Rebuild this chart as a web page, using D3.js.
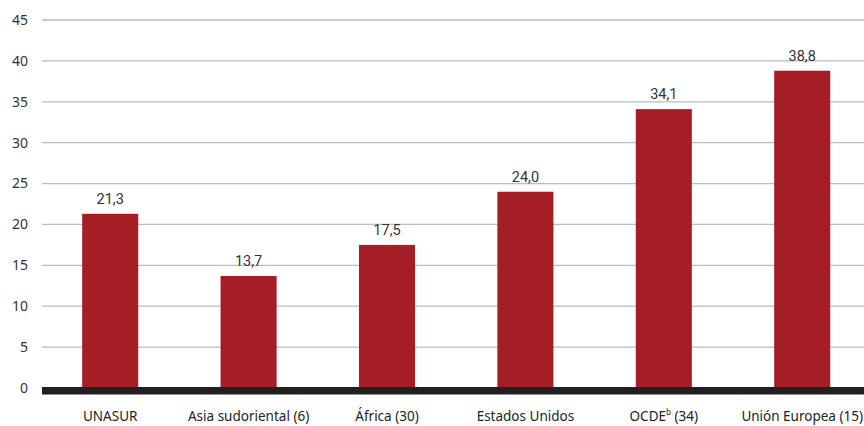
<!DOCTYPE html>
<html><head><meta charset="utf-8">
<script src="https://cdn.jsdelivr.net/npm/d3@7"></script>
<style>html,body{margin:0;padding:0;background:#fff;overflow:hidden}</style>
</head><body>
<svg id="c" width="864" height="426"></svg>
<script>
const categories = ["UNASUR", "Asia sudoriental (6)", "África (30)", "Estados Unidos", "OCDE|b|(34)", "Unión Europea (15)"];
const values = [21.3, 13.7, 17.5, 24.0, 34.1, 38.8];
const yTicks = [0, 5, 10, 15, 20, 25, 30, 35, 40, 45];

const svg = d3.select("#c");
const x = d3.scaleBand().domain(categories).range([41, 871.4]).paddingInner(0.595).paddingOuter(0.2975);
const y = d3.scaleLinear().domain([0, 45]).range([388, 20]);

// gridlines
svg.append("g").selectAll("line").data(yTicks.filter(d => d > 0)).join("line")
  .attr("x1", 42).attr("x2", 864)
  .attr("y1", d => y(d)).attr("y2", d => y(d))
  .attr("stroke", "#bdbdbd").attr("stroke-width", 1.3);

// y tick labels
svg.append("g").selectAll("text").data(yTicks).join("text")
  .attr("x", 28).attr("y", d => y(d)).attr("dy", "0.35em")
  .attr("text-anchor", "end")
  .attr("font-family", "'Noto Sans', sans-serif").attr("font-size", 14)
  .attr("fill", "#333").text(d => d);

// bars
svg.append("g").selectAll("rect").data(values).join("rect")
  .attr("x", (d, i) => x(categories[i]))
  .attr("width", x.bandwidth())
  .attr("y", d => y(d))
  .attr("height", d => y(0) - y(d))
  .attr("fill", "#A61E25");

// baseline
svg.append("rect").attr("x", 42).attr("width", 822).attr("y", y(0) - 1).attr("height", 7.5).attr("fill", "#231f20");

// value labels
svg.append("g").selectAll("text").data(values).join("text")
  .attr("x", (d, i) => x(categories[i]) + x.bandwidth() / 2)
  .attr("y", d => y(d) - 10)
  .attr("text-anchor", "middle")
  .attr("font-family", "Roboto, sans-serif").attr("font-size", 14.5)
  .attr("fill", "#333")
  .text(d => d.toFixed(1).replace(".", ","));

// category labels
const cl = svg.append("g").selectAll("text").data(categories).join("text")
  .attr("x", d => x(d) + x.bandwidth() / 2)
  .attr("y", 421)
  .attr("text-anchor", "middle")
  .attr("font-family", "'Noto Sans', sans-serif").attr("font-size", 13.5)
  .attr("fill", "#222");
cl.each(function(d) {
  const t = d3.select(this);
  if (d.includes("|")) {
    const [a, sup, b] = d.split("|");
    t.append("tspan").text(a);
    t.append("tspan").attr("font-size", 8).attr("dy", -6).text(sup);
    t.append("tspan").attr("dy", 6).text(" " + b);
  } else t.text(d);
});
</script>
</body></html>
